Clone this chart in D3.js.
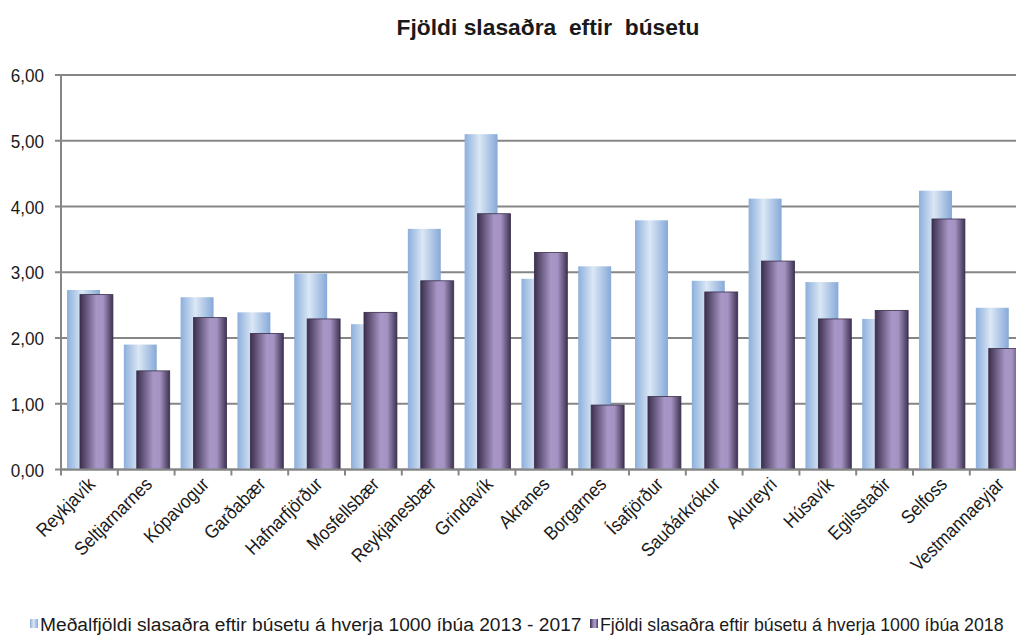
<!DOCTYPE html>
<html>
<head>
<meta charset="utf-8">
<script src="https://cdn.jsdelivr.net/npm/d3@7"></script>
<style>
  body { margin: 0; background: #fff; }
  text { font-family: Arial, "Liberation Sans", sans-serif; fill: #1a1a1a; }
</style>
</head>
<body>
<svg id="svg" width="1016" height="642"></svg>
<script>
var places = ["Reykjavík","Seltjarnarnes","Kópavogur","Garðabær","Hafnarfjörður","Mosfellsbær",
  "Reykjanesbær","Grindavík","Akranes","Borgarnes","Ísafjörður","Sauðárkrókur","Akureyri",
  "Húsavík","Egilsstaðir","Selfoss","Vestmannaeyjar"];
var avg1317 = [2.73,1.90,2.62,2.39,2.98,2.21,3.66,5.10,2.90,3.09,3.79,2.87,4.12,2.85,2.29,4.24,2.46];
var y2018 = [2.66,1.50,2.31,2.07,2.29,2.39,2.87,3.89,3.30,0.98,1.11,2.70,3.17,2.29,2.42,3.81,1.84];
var yTicks = [0,1,2,3,4,5,6];
var seriesNames = ["Meðalfjöldi slasaðra eftir búsetu á hverja 1000 íbúa 2013 - 2017",
  "Fjöldi slasaðra eftir búsetu á hverja 1000 íbúa 2018"];

var plotLeft=61, plotTop=75, plotBottom=469.5, bandW=56.8;
var svg=d3.select("#svg");
var defs=svg.append("defs");

var g1=defs.append("linearGradient").attr("id","gBlue").attr("x1","0").attr("x2","1").attr("y1","0").attr("y2","0");
g1.append("stop").attr("offset","0").attr("stop-color","#8cafdc");
g1.append("stop").attr("offset","0.45").attr("stop-color","#dbe7f5");
g1.append("stop").attr("offset","1").attr("stop-color","#86a9d8");

var g2=defs.append("linearGradient").attr("id","gPurple").attr("x1","0").attr("x2","1").attr("y1","0").attr("y2","0");
g2.append("stop").attr("offset","0").attr("stop-color","#3b2f4e");
g2.append("stop").attr("offset","0.5").attr("stop-color","#a897c6");
g2.append("stop").attr("offset","0.7").attr("stop-color","#a594c3");
g2.append("stop").attr("offset","1").attr("stop-color","#3f3352");

var x=d3.scaleBand().domain(places).range([plotLeft,plotLeft+bandW*places.length]);
var y=d3.scaleLinear().domain([0,6]).range([plotBottom,plotTop]);

// squeeze a text horizontally to a given width
function fitWidth(sel,px,py,w){
  var len=sel.node().getComputedTextLength();
  sel.attr("transform","translate("+px+","+py+") scale("+(w/len)+",1)");
}

// title
var title=svg.append("text").attr("text-anchor","middle")
  .style("font-size","22px").style("font-weight","bold").style("white-space","pre")
  .text("Fjöldi slasaðra  eftir  búsetu");
fitWidth(title,548,35,303);

// gridlines
svg.append("g").selectAll("line").data(yTicks).enter().append("line")
  .attr("x1",plotLeft-6).attr("x2",1016).attr("y1",d=>y(d)).attr("y2",d=>y(d))
  .attr("stroke","#868686").attr("stroke-width",2);

// y labels
svg.append("g").selectAll("text").data(yTicks).enter().append("text")
  .attr("transform",d=>"translate(44,"+(y(d)+7)+") scale(0.9,1)")
  .attr("text-anchor","end")
  .style("font-size","19px")
  .text(d=>d3.format(".2f")(d).replace(".",","));

// bars
var bw=x.bandwidth();
svg.append("g").selectAll("rect").data(avg1317).enter().append("rect")
  .attr("x",(d,i)=>x(places[i])+bw*0.106).attr("width",bw*0.58)
  .attr("y",d=>y(d)).attr("height",d=>y(0)-y(d))
  .attr("fill","url(#gBlue)");
svg.append("g").selectAll("rect").data(y2018).enter().append("rect")
  .attr("x",(d,i)=>x(places[i])+bw*0.334).attr("width",bw*0.58)
  .attr("y",d=>y(d)).attr("height",d=>y(0)-y(d))
  .attr("fill","url(#gPurple)").attr("stroke","#3a2e4a").attr("stroke-width",0.8);

// axes lines
svg.append("line").attr("x1",plotLeft).attr("x2",plotLeft).attr("y1",plotTop).attr("y2",plotBottom)
  .attr("stroke","#868686").attr("stroke-width",2);
svg.append("line").attr("x1",plotLeft).attr("x2",1016).attr("y1",plotBottom).attr("y2",plotBottom)
  .attr("stroke","#868686").attr("stroke-width",2);
svg.append("g").selectAll("line").data(places).enter().append("line")
  .attr("x1",d=>x(d)).attr("x2",d=>x(d)).attr("y1",plotBottom).attr("y2",plotBottom+6)
  .attr("stroke","#868686").attr("stroke-width",2);

// x labels
svg.append("g").selectAll("text").data(places).enter().append("text")
  .attr("transform",d=>"translate("+(x(d)+bw/2+7)+","+(plotBottom+16)+") rotate(-45) scale(0.9,1)")
  .attr("text-anchor","end")
  .style("font-size","19px")
  .text(d=>d);

// legend
var leg=[{x:30,fill:"url(#gBlue)",w:542},{x:590,fill:"url(#gPurple)",w:404}];
leg.forEach((l,i)=>{
  svg.append("rect").attr("x",l.x).attr("y",619).attr("width",8).attr("height",9).attr("fill",l.fill);
  var t=svg.append("text").style("font-size","19px").text(seriesNames[i]);
  fitWidth(t,l.x+10,631,l.w);
});
</script>
</body>
</html>
